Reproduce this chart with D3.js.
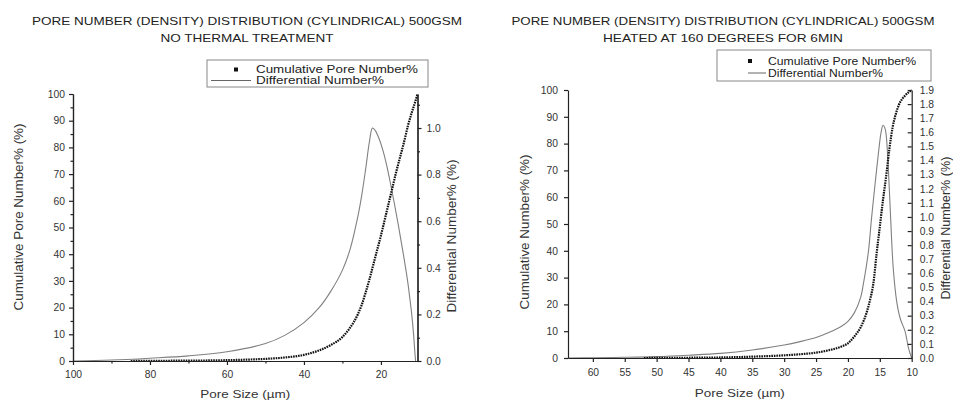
<!DOCTYPE html>
<html>
<head>
<meta charset="utf-8">
<script src="https://cdn.jsdelivr.net/npm/d3@7/dist/d3.min.js"></script>
<style>
body{margin:0;background:#fff}
svg{display:block;font-family:"Liberation Sans",Arial,sans-serif}
</style>
</head>
<body>
<div class="chart"></div>
<script>
//Data - left panel (no thermal treatment)
var ntCumSize = [85, 75, 65, 55, 50, 45, 40, 36, 33, 30, 28, 26, 25, 24, 23, 22, 21, 20, 19, 18, 17, 16, 15, 14, 13, 12, 11, 10.5];
var ntCum     = [0, 0.1, 0.2, 0.5, 0.8, 1.3, 2.3, 4, 6, 9, 12.5, 17.5, 21, 25.5, 30.5, 36, 41.5, 47, 53, 59, 65, 71, 76.5, 82, 88, 93, 97.5, 100];
var ntDiffSize = [100, 90, 80, 70, 60, 50, 45, 40, 36, 33, 30, 28, 26, 25, 24, 23, 22.2, 21.5, 20.5, 19.5, 18.5, 17.5, 16.5, 15.5, 14.5, 13.5, 13, 12.5, 12, 11.5, 11.2, 11];
var ntDiff     = [0, 0.004, 0.012, 0.022, 0.04, 0.075, 0.11, 0.165, 0.23, 0.3, 0.39, 0.48, 0.62, 0.71, 0.82, 0.94, 1.0, 0.99, 0.955, 0.905, 0.84, 0.76, 0.675, 0.585, 0.49, 0.39, 0.335, 0.27, 0.2, 0.11, 0.04, 0];

//Data - right panel (heated 160 deg, 6 min)
var htCumSize = [52, 45, 40, 35, 30, 27, 25, 23, 21, 20, 19, 18, 17, 16.5, 16, 15.5, 15, 14.5, 14, 13.5, 13, 12.5, 12, 11, 10];
var htCum     = [0, 0.1, 0.2, 0.5, 1.0, 1.5, 2.0, 2.9, 4.3, 5.5, 8, 11.5, 17.5, 22, 28, 39, 49, 59, 68, 78, 86, 91, 94.5, 98, 100];
var htDiffSize = [63.9, 60, 55, 50, 45, 40, 35, 30, 27.5, 25, 23, 21, 20, 19, 18, 17.6, 16.8, 16.3, 15.75, 15.2, 14.8, 14.5, 14.2, 14, 13.67, 13.3, 12.9, 12.35, 11.8, 11.05, 10.5, 10];
var htDiff     = [0, 0.002, 0.005, 0.01, 0.02, 0.033, 0.057, 0.092, 0.116, 0.145, 0.18, 0.225, 0.26, 0.32, 0.43, 0.52, 0.75, 0.99, 1.23, 1.46, 1.6, 1.65, 1.63, 1.58, 1.35, 0.99, 0.64, 0.40, 0.28, 0.19, 0.07, 0];

//Tick values
var ntXTicks = [100, 80, 60, 40, 20];
var ntXMinor = [90, 70, 50, 30];
var ntYTicks = [0, 10, 20, 30, 40, 50, 60, 70, 80, 90, 100];
var ntYMinor = [5, 15, 25, 35, 45, 55, 65, 75, 85, 95];
var ntY2Ticks = [0, 0.2, 0.4, 0.6, 0.8, 1.0];
var ntY2Minor = [0.1, 0.3, 0.5, 0.7, 0.9, 1.1];

var htXTicks = [60, 55, 50, 45, 40, 35, 30, 25, 20, 15, 10];
var htYTicks = [0, 10, 20, 30, 40, 50, 60, 70, 80, 90, 100];
var htY2Ticks = [0, 0.1, 0.2, 0.3, 0.4, 0.5, 0.6, 0.7, 0.8, 0.9, 1.0, 1.1, 1.2, 1.3, 1.4, 1.5, 1.6, 1.7, 1.8, 1.9];

var svg = d3.select(".chart")
            .append("svg")
            .attr("width", 953)
            .attr("height", 405);

function zip(a, b){
    return a.map(function(v, i){ return [v, b[i]]; });
}

//the original picture is a bit stretched sideways, so squeeze text to its length
function fit(sel, len){
    sel.attr("textLength", len).attr("lengthAdjust", "spacingAndGlyphs");
}

//Build one panel
function drawPanel(p){
    var g = svg.append("g").attr("class", "panel");

    var x = d3.scaleLinear().domain(p.xDomain).range([p.left, p.right]);
    var y = d3.scaleLinear().domain([0, 100]).range([p.bottom, p.top]);
    var y2 = d3.scaleLinear().domain([0, p.y2Max]).range([p.bottom, p.top]);

    //title
    p.title.forEach(function(t, i){
        g.append("text")
            .attr("x", p.titleX)
            .attr("y", p.titleY + i * 16.5)
            .attr("text-anchor", "middle")
            .style("font-size", "11.4px")
            .style("fill", "#222")
            .text(t)
            .call(fit, p.titleLen[i]);
    });

    //curves
    var cumLine = d3.line()
        .x(function(d){ return x(d[0]); })
        .y(function(d){ return y(d[1]); })
        .curve(d3.curveMonotoneX);
    var diffLine = d3.line()
        .x(function(d){ return x(d[0]); })
        .y(function(d){ return y2(d[1]); })
        .curve(d3.curveCatmullRom.alpha(0.5));

    g.append("path")
        .datum(zip(p.diffSize, p.diff))
        .attr("d", diffLine)
        .attr("fill", "none")
        .attr("stroke", "#808080")
        .attr("stroke-width", 1.1);

    g.append("path")
        .datum(zip(p.cumSize, p.cum))
        .attr("d", cumLine)
        .attr("fill", "none")
        .attr("stroke", "#111")
        .attr("stroke-width", 2.2)
        .attr("stroke-dasharray", "1.6,0.9");

    //axes
    g.append("g")
        .attr("transform", "translate(0," + p.bottom + ")")
        .call(d3.axisBottom(x).tickValues(p.xTicks).tickSize(4).tickSizeOuter(0).tickPadding(p.xPad).tickFormat(d3.format("d")));
    if (p.xMinor) {
        g.append("g")
            .attr("transform", "translate(0," + p.bottom + ")")
            .call(d3.axisBottom(x).tickValues(p.xMinor).tickSize(2.5).tickSizeOuter(0).tickFormat(""));
    }

    g.append("g")
        .attr("transform", "translate(" + p.left + ",0)")
        .call(d3.axisLeft(y).tickValues(p.yTicks).tickSize(4).tickSizeOuter(0).tickPadding(p.yPad).tickFormat(d3.format("d")));
    if (p.yMinor) {
        g.append("g")
            .attr("transform", "translate(" + p.left + ",0)")
            .call(d3.axisLeft(y).tickValues(p.yMinor).tickSize(2.5).tickSizeOuter(0).tickFormat(""));
    }

    g.append("g")
        .attr("transform", "translate(" + p.right + ",0)")
        .call(d3.axisRight(y2).tickValues(p.y2Ticks).tickSize(p.y2Inward ? -4 : 4).tickSizeOuter(0).tickPadding(p.y2Pad).tickFormat(d3.format(".1f")));
    if (p.y2Minor) {
        g.append("g")
            .attr("transform", "translate(" + p.right + ",0)")
            .call(d3.axisRight(y2).tickValues(p.y2Minor).tickSize(2.5).tickSizeOuter(0).tickFormat(""));
    }

    g.selectAll(".domain, .tick line")
        .attr("stroke", "#222")
        .attr("stroke-width", 1.2);
    g.selectAll(".tick text")
        .style("font-size", "10.3px")
        .style("fill", "#333");

    //axis titles
    g.append("text")
        .attr("x", (p.left + p.right) / 2)
        .attr("y", p.xTitleY)
        .attr("text-anchor", "middle")
        .style("font-size", "11.8px")
        .style("fill", "#333")
        .text("Pore Size (µm)")
        .call(fit, 90);

    g.append("text")
        .attr("transform", "translate(" + p.yTitleX + "," + p.yTitleY + ") rotate(-90)")
        .attr("dy", "0.35em")
        .attr("text-anchor", "middle")
        .style("font-size", "12px")
        .style("fill", "#333")
        .text(p.yTitle)
        .call(fit, p.yTitleLen);

    g.append("text")
        .attr("transform", "translate(" + p.y2TitleX + "," + p.y2TitleY + ") rotate(-90)")
        .attr("dy", "0.35em")
        .attr("text-anchor", "middle")
        .style("font-size", "12px")
        .style("fill", "#333")
        .text("Differential Number% (%)")
        .call(fit, p.y2TitleLen);

    //legend
    var L = p.legend;
    var leg = g.append("g").attr("class", "legend");
    leg.append("rect")
        .attr("x", L.x).attr("y", L.y)
        .attr("width", L.w).attr("height", L.h)
        .attr("fill", "#fff")
        .attr("stroke", "#888")
        .attr("stroke-width", 1);
    leg.append("rect")
        .attr("x", L.markX - 2).attr("y", L.row1 - 2)
        .attr("width", 4).attr("height", 4)
        .attr("fill", "#111");
    leg.append("line")
        .attr("x1", L.lineX1).attr("x2", L.lineX2)
        .attr("y1", L.row2).attr("y2", L.row2)
        .attr("stroke", "#666").attr("stroke-width", 1);
    ["Cumulative Pore Number%", "Differential Number%"].forEach(function(t, i){
        leg.append("text")
            .attr("x", L.textX)
            .attr("y", i == 0 ? L.row1 : L.row2)
            .attr("dy", "0.35em")
            .style("font-size", "10.6px")
            .style("fill", "#222")
            .text(t)
            .call(fit, L.len[i]);
    });
}

drawPanel({
    title: ["PORE NUMBER (DENSITY) DISTRIBUTION (CYLINDRICAL) 500GSM", "NO THERMAL TREATMENT"],
    titleLen: [430, 173],
    titleX: 247, titleY: 25,
    left: 73, right: 417.5, top: 94, bottom: 361,
    xDomain: [100, 10.5], y2Max: 1.146,
    cumSize: ntCumSize, cum: ntCum, diffSize: ntDiffSize, diff: ntDiff,
    xTicks: ntXTicks, xMinor: ntXMinor, xPad: 6,
    yTicks: ntYTicks, yMinor: ntYMinor, yPad: 4,
    y2Ticks: ntY2Ticks, y2Minor: ntY2Minor, y2Inward: false, y2Pad: 5,
    xTitleY: 398,
    yTitle: "Cumulative Pore Number% (%)", yTitleX: 19, yTitleY: 217, yTitleLen: 187,
    y2TitleX: 452, y2TitleY: 236, y2TitleLen: 153,
    legend: {x: 207, y: 60, w: 221, h: 27, markX: 236, row1: 69.5, row2: 80.5, lineX1: 211, lineX2: 251, textX: 256, len: [162, 128]}
});

drawPanel({
    title: ["PORE NUMBER (DENSITY) DISTRIBUTION (CYLINDRICAL) 500GSM", "HEATED AT 160 DEGREES FOR 6MIN"],
    titleLen: [423, 240],
    titleX: 723, titleY: 25,
    left: 568, right: 911.7, top: 90, bottom: 358,
    xDomain: [63.9, 10], y2Max: 1.9,
    cumSize: htCumSize, cum: htCum, diffSize: htDiffSize, diff: htDiff,
    xTicks: htXTicks, xMinor: null, xPad: 7,
    yTicks: htYTicks, yMinor: null, yPad: 6,
    y2Ticks: htY2Ticks, y2Minor: null, y2Inward: true, y2Pad: 8,
    xTitleY: 397,
    yTitle: "Cumulative Number% (%)", yTitleX: 525, yTitleY: 232, yTitleLen: 155,
    y2TitleX: 946, y2TitleY: 228, y2TitleLen: 143,
    legend: {x: 717, y: 50, w: 214, h: 31, markX: 750, row1: 61, row2: 73, lineX1: 748, lineX2: 766, textX: 768, len: [148, 115]}
});
</script>
</body>
</html>
